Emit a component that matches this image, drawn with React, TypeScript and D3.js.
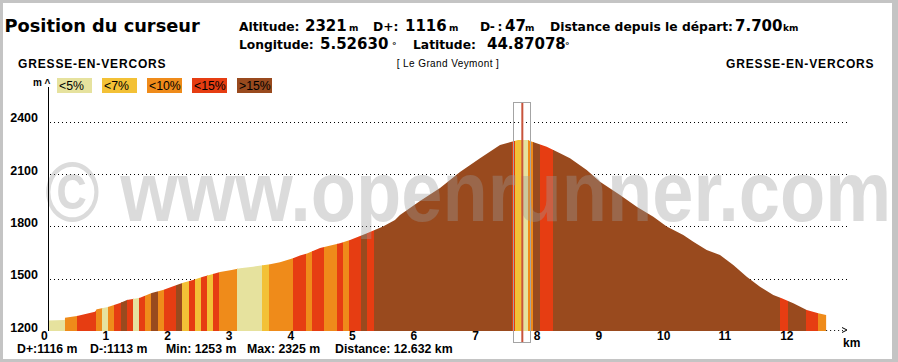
import React from 'react';
import * as d3 from 'd3';

// ---- Data ----
const KM = [0, 0.271, 0.276, 0.471, 0.763, 0.795, 0.974, 1.169, 1.282, 1.494, 1.683, 1.866, 2.089, 2.192, 2.354, 2.516, 2.679, 2.792, 2.982, 3.117, 3.328, 3.604, 3.766, 3.977, 4.091, 4.205, 4.416, 4.740, 4.903, 5.179, 5.438, 5.633, 5.714, 6.039, 6.364, 6.688, 7.013, 7.338, 7.528, 7.630, 7.792, 7.825, 8.096, 8.312, 8.474, 8.745, 8.961, 9.286, 9.557, 9.826, 10.044, 10.313, 10.476, 10.693, 10.909, 11.125, 11.343, 11.558, 11.774, 11.911, 12.099, 12.317, 12.505, 12.632];
const ALT = [1260, 1263, 1276, 1286, 1311, 1325, 1338, 1361, 1378, 1391, 1418, 1435, 1464, 1477, 1493, 1512, 1527, 1539, 1550, 1560, 1569, 1583, 1594, 1617, 1633, 1645, 1676, 1703, 1722, 1761, 1799, 1837, 1866, 1946, 2021, 2112, 2191, 2267, 2286, 2296, 2296, 2290, 2258, 2220, 2191, 2124, 2057, 1981, 1913, 1856, 1799, 1751, 1712, 1665, 1636, 1579, 1512, 1454, 1407, 1388, 1359, 1321, 1302, 1292];

const SEG_START = [0, 0.271, 0.476, 0.784, 0.881, 0.979, 1.071, 1.190, 1.287, 1.385, 1.477, 1.570, 1.667, 1.786, 1.883, 2.073, 2.170, 2.289, 2.386, 2.479, 2.586, 2.683, 2.776, 3.073, 3.479, 3.588, 3.982, 4.183, 4.291, 4.481, 4.696, 4.789, 4.886, 5.076, 5.183, 5.292, 7.528, 7.581, 7.695, 7.797, 7.878, 7.987, 8.203, 11.883, 12.010, 12.305, 12.495];
const SEG_GRADE = [0, 2, 3, 2, 0, 2, 3, 4, 3, 0, 3, 2, 4, 2, 3, 4, 1, 3, 1, 3, 1, 3, 2, 0, 1, 2, 3, 2, 3, 2, 3, 2, 3, 4, 3, 4, 3, 1, 0, 2, 4, 3, 4, 3, 4, 3, 2];

const GRADE_LABELS = ['<5%', '<7%', '<10%', '<15%', '>15%'];
const GRADE_COLORS = ['#e6e29e', '#f3c136', '#ef8b1a', '#e63d12', '#994a1e'];

const X_TICKS = [0, 1, 2, 3, 4, 5, 6, 7, 8, 9, 10, 11, 12];
const Y_TICKS = [1200, 1500, 1800, 2100, 2400];
const GRID_TICKS = [1500, 1800, 2100, 2400];

const TOTAL_KM = 12.632;
const CURSOR_KM = 7.7;
const PLACE = 'GRESSE-EN-VERCORS';
const SUMMIT = '[ Le Grand Veymont ]';
const FOOTER = ['D+:1116 m', 'D-:1113 m', 'Min: 1253 m', 'Max: 2325 m', 'Distance: 12.632 km'];

const VERD = "'DejaVu Sans', Verdana, sans-serif";
const ARIAL = "'Liberation Sans', Arial, sans-serif";

export default function App() {
  const W = 898, H = 362;
  const x = d3.scaleLinear().domain([0, 12]).range([48, 787.2]);
  const y = d3.scaleLinear().domain([1200, 2400]).range([331, 121.9]);
  const pts = KM.map((k, i) => ({ km: k, alt: ALT[i] }));
  const area = d3.area<{ km: number; alt: number }>()
    .x(d => x(d.km)).y0(y(1200)).y1(d => y(d.alt));
  const areaPath = area(pts) || '';
  const segs = SEG_START.map((s, i) => ({
    s, e: i < SEG_START.length - 1 ? SEG_START[i + 1] : TOTAL_KM, g: SEG_GRADE[i],
  }));
  const cx = x(CURSOR_KM);
  const endX = x(TOTAL_KM);
  const lblStyle = { fontFamily: VERD, fontWeight: 700, fontSize: 12.3, fill: '#000' } as const;
  const valStyle = { fontFamily: VERD, fontWeight: 700, fontSize: 15, fill: '#000' } as const;
  const unitStyle = { fontFamily: VERD, fontWeight: 700, fontSize: 9, fill: '#000' } as const;
  const footerX = [17, 90, 166, 247, 335];

  return (
    <div style={{ position: 'absolute', left: 0, top: 0 }}>
      <svg width={W} height={H} style={{ display: 'block' }}>
        <defs>
          <clipPath id="prof"><path d={areaPath} /></clipPath>
        </defs>
        <rect x={0} y={0} width={W} height={H} fill="#c4c4c4" />
        <rect x={3} y={3} width={889} height={356} fill="#ffffff" />

        {/* header */}
        <text x={4.5} y={32} style={{ fontFamily: VERD, fontWeight: 700, fontSize: 17.8 }}>Position du curseur</text>
        <text x={239} y={30.5} style={lblStyle}>Altitude:</text>
        <text x={305} y={30.5} style={valStyle}>2321</text>
        <text x={349} y={30.5} style={unitStyle}>m</text>
        <text x={373} y={30.5} style={lblStyle}>D+:</text>
        <text x={405} y={30.5} style={valStyle}>1116</text>
        <text x={449} y={30.5} style={unitStyle}>m</text>
        <text x={480} y={30.5} style={{ ...lblStyle, letterSpacing: -0.8 }}>D- :</text>
        <text x={505} y={30.5} style={valStyle}>47</text>
        <text x={525} y={30.5} style={unitStyle}>m</text>
        <text x={550} y={30.5} style={lblStyle}>Distance depuis le départ:</text>
        <text x={735} y={30.5} style={valStyle}>7.700</text>
        <text x={783} y={30.5} style={unitStyle}>km</text>
        <text x={239} y={48.5} style={lblStyle}>Longitude:</text>
        <text x={320} y={48.5} style={valStyle}>5.52630</text>
        <text x={392} y={48.5} style={unitStyle}>°</text>
        <text x={413} y={48.5} style={lblStyle}>Latitude:</text>
        <text x={487} y={48.5} style={valStyle}>44.87078</text>
        <text x={565} y={48.5} style={unitStyle}>°</text>

        <text x={18} y={68} style={{ fontFamily: ARIAL, fontWeight: 700, fontSize: 12, letterSpacing: 0.85 }}>{PLACE}</text>
        <text x={726} y={68} style={{ fontFamily: ARIAL, fontWeight: 700, fontSize: 12, letterSpacing: 0.85 }}>{PLACE}</text>
        <text x={448} y={67} textAnchor="middle" style={{ fontFamily: ARIAL, fontSize: 10, letterSpacing: 0.4 }}>{SUMMIT}</text>

        {/* legend */}
        <text x={33} y={85.5} style={{ fontFamily: ARIAL, fontWeight: 700, fontSize: 10 }}>m</text>
        <text x={44.5} y={86.5} style={{ fontFamily: ARIAL, fontWeight: 700, fontSize: 10 }}>^</text>
        {GRADE_LABELS.map((l, i) => (
          <g key={l}>
            <rect x={57 + i * 45} y={78} width={35} height={15} fill={GRADE_COLORS[i]} />
            <text x={59 + i * 45} y={90} style={{ fontFamily: ARIAL, fontSize: 12.3, fill: '#000' }}>{l}</text>
          </g>
        ))}

        {/* grid */}
        {GRID_TICKS.map(t => (
          <line key={t} x1={50} x2={847} y1={Math.round(y(t)) + 0.5} y2={Math.round(y(t)) + 0.5}
            stroke="#000" strokeWidth={1} strokeDasharray="1 3" />
        ))}
        <line x1={endX} x2={843} y1={330.5} y2={330.5} stroke="#000" strokeDasharray="1 3" />
        <path d="M842,327.5 L847,330 L842,332.5" fill="none" stroke="#000" strokeWidth={1} />

        {/* profile */}
        <g clipPath="url(#prof)">
          {segs.map((sg, i) => (
            <rect key={i} x={x(sg.s)} y={100} width={Math.max(0, x(sg.e) - x(sg.s)) + 0.4} height={240}
              fill={GRADE_COLORS[sg.g]} shapeRendering="crispEdges" />
          ))}
        </g>

        {/* watermark */}
        <text x={45} y={221} textLength={846} lengthAdjust="spacingAndGlyphs"
          style={{ fontFamily: ARIAL, fontWeight: 700, fontSize: 86, fill: '#9a9a9a', fillOpacity: 0.36 }}>© www.openrunner.com</text>

        {/* y axis */}
        <line x1={48.5} x2={48.5} y1={87} y2={331} stroke="#000" strokeWidth={1} />
        {Y_TICKS.map(t => (
          <text key={t} x={38} y={y(t) + 0.5} textAnchor="end"
            style={{ fontFamily: ARIAL, fontWeight: 700, fontSize: 12.5 }}>{t}</text>
        ))}

        {/* x axis labels */}
        {X_TICKS.map(t => (
          <text key={t} x={x(t) - 7} y={340} style={{ fontFamily: ARIAL, fontWeight: 700, fontSize: 12 }}>{t}</text>
        ))}
        <text x={843} y={347} style={{ fontFamily: ARIAL, fontWeight: 700, fontSize: 12 }}>km</text>

        {/* cursor */}
        <rect x={Math.round(cx) - 8.5} y={102.5} width={17} height={240} fill="none" stroke="#a4a4a4" strokeWidth={1} />
        <line x1={cx} x2={cx} y1={103} y2={342} stroke="#c8543c" strokeWidth={2} />

        {/* footer */}
        {FOOTER.map((f, i) => (
          <text key={f} x={footerX[i]} y={352.5} style={{ fontFamily: ARIAL, fontWeight: 700, fontSize: 12.3 }}>{f}</text>
        ))}
      </svg>
    </div>
  );
}
